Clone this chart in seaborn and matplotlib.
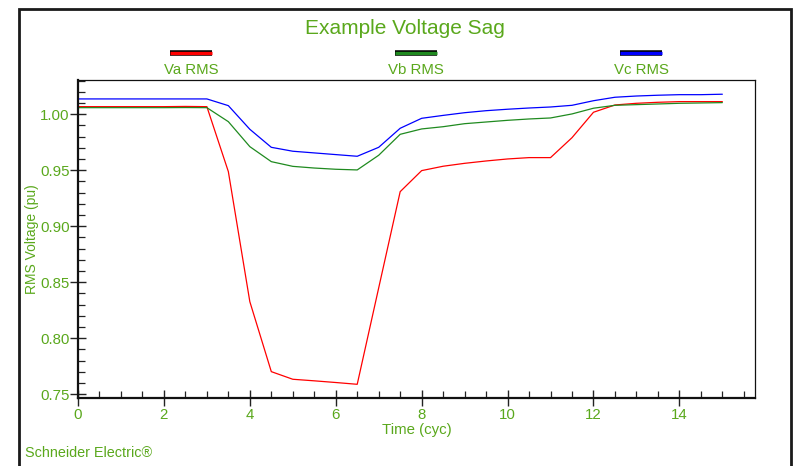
import matplotlib
matplotlib.use("Agg")
import matplotlib.pyplot as plt
import matplotlib.patches as mpatches
import matplotlib.patheffects as pe
from matplotlib.lines import Line2D
from matplotlib.ticker import MultipleLocator, FormatStrFormatter
import seaborn as sns
import pandas as pd

# ---- data ----
time_cyc = [0.0, 0.5, 1.0, 1.5, 2.0, 2.5, 3.0, 3.5, 4.0, 4.5, 5.0, 5.5, 6.0, 6.5,
            7.0, 7.5, 8.0, 8.5, 9.0, 9.5, 10.0, 10.5, 11.0, 11.5, 12.0, 12.5,
            13.0, 13.5, 14.0, 14.5, 15.0]
va_rms = [1.0068, 1.0068, 1.0068, 1.0068, 1.0068, 1.0070, 1.0068, 0.9488, 0.8327,
          0.7702, 0.7634, 0.7620, 0.7605, 0.7589, 0.8450, 0.9309, 0.9497, 0.9536,
          0.9562, 0.9583, 0.9601, 0.9613, 0.9613, 0.9791, 1.0018, 1.0083, 1.0098,
          1.0107, 1.0113, 1.0113, 1.0113]
vb_rms = [1.0059, 1.0059, 1.0059, 1.0059, 1.0059, 1.0060, 1.0059, 0.9934, 0.9711,
          0.9577, 0.9535, 0.9520, 0.9509, 0.9503, 0.9634, 0.9821, 0.9869, 0.9889,
          0.9916, 0.9931, 0.9946, 0.9958, 0.9967, 1.0003, 1.0054, 1.0080, 1.0086,
          1.0092, 1.0098, 1.0101, 1.0104]
vc_rms = [1.0137, 1.0137, 1.0137, 1.0137, 1.0137, 1.0137, 1.0137, 1.0077, 0.9866,
          0.9705, 0.9670, 0.9655, 0.9640, 0.9625, 0.9705, 0.9875, 0.9964, 0.9990,
          1.0014, 1.0032, 1.0045, 1.0056, 1.0065, 1.0080, 1.0121, 1.0152, 1.0163,
          1.0170, 1.0175, 1.0175, 1.0179]
series_names = ["Va RMS", "Vb RMS", "Vc RMS"]
series_colors = ["#ff0000", "#1f8a1f", "#0000ff"]
title_text = "Example Voltage Sag"
x_label = "Time (cyc)"
y_label = "RMS Voltage (pu)"
footer_text = "Schneider Electric®"

# ---- build long-form table ----
frames = []
for name, vals in zip(series_names, [va_rms, vb_rms, vc_rms]):
    frames.append(pd.DataFrame({"time": time_cyc, "value": vals, "series": name}))
df = pd.concat(frames, ignore_index=True)

sns.set_style("white")
plt.rcParams["font.family"] = ["Liberation Sans", "DejaVu Sans"]

GREEN = "#5aa81c"

fig = plt.figure(figsize=(7.93, 4.66), dpi=100)
ax = fig.add_axes([78 / 793, 1 - 398.3 / 466, (755 - 78) / 793, (398.3 - 80) / 466])

sns.lineplot(data=df, x="time", y="value", hue="series",
             palette=dict(zip(series_names, series_colors)),
             linewidth=0.9, legend=False, ax=ax, sort=False)

ax.set_xlim(0, 15.76)
ax.set_ylim(0.7464, 1.0306)

ax.xaxis.set_major_locator(MultipleLocator(2))
ax.xaxis.set_minor_locator(MultipleLocator(0.5))
ax.yaxis.set_major_locator(MultipleLocator(0.05))
ax.yaxis.set_minor_locator(MultipleLocator(0.01))
ax.yaxis.set_major_formatter(FormatStrFormatter("%.2f"))

ax.tick_params(axis="both", which="major", direction="inout", length=11, width=1.0,
               color="#222222", labelcolor=GREEN, labelsize=10.8)
ax.tick_params(axis="x", which="major", pad=1.5)
ax.tick_params(axis="y", which="major", pad=0.5)
ax.tick_params(axis="both", which="minor", direction="in", length=5, width=0.9,
               color="#222222")
ax.tick_params(axis="both", which="both", bottom=True, left=True, top=False, right=False)

for side in ["left", "bottom"]:
    ax.spines[side].set_linewidth(1.6)
    ax.spines[side].set_color("#111111")
for side in ["top", "right"]:
    ax.spines[side].set_linewidth(0.9)
    ax.spines[side].set_color("#111111")

ax.set_xlabel(x_label, color=GREEN, fontsize=10.8, labelpad=1)
ax.set_ylabel(y_label, color=GREEN, fontsize=10, labelpad=1)
ax.yaxis.set_label_coords(-0.0570, 0.5)

# title
fig.text(405 / 793, 1 - 28 / 466, title_text, color=GREEN, fontsize=15,
         ha="center", va="center")

# custom legend: line samples above labels
legend_x = [191 / 793, 416 / 793, 641 / 793]
half = 21 / 793
for xc, name, col in zip(legend_x, series_names, series_colors):
    ln = Line2D([xc - half, xc + half], [1 - 53 / 466, 1 - 53 / 466],
                transform=fig.transFigure, color=col, linewidth=2.4,
                solid_capstyle="butt")
    ln.set_path_effects([pe.Stroke(linewidth=4.0, foreground="black",
                                   capstyle="butt"), pe.Normal()])
    fig.add_artist(ln)
    fig.text(xc, 1 - 70 / 466, name, color=GREEN, fontsize=10.8,
             ha="center", va="center")

# footer
fig.text(25 / 793, 1 - 453 / 466, footer_text, color=GREEN, fontsize=10.4,
         ha="left", va="center")

# outer frame
frame = mpatches.Rectangle((18.5 / 793, -0.05), (791 - 18.5) / 793, 1.05 - 9.5 / 466,
                           transform=fig.transFigure, fill=False,
                           edgecolor="#1a1a1a", linewidth=2.0, clip_on=False)
fig.add_artist(frame)

fig.savefig("out.png", dpi=100)
